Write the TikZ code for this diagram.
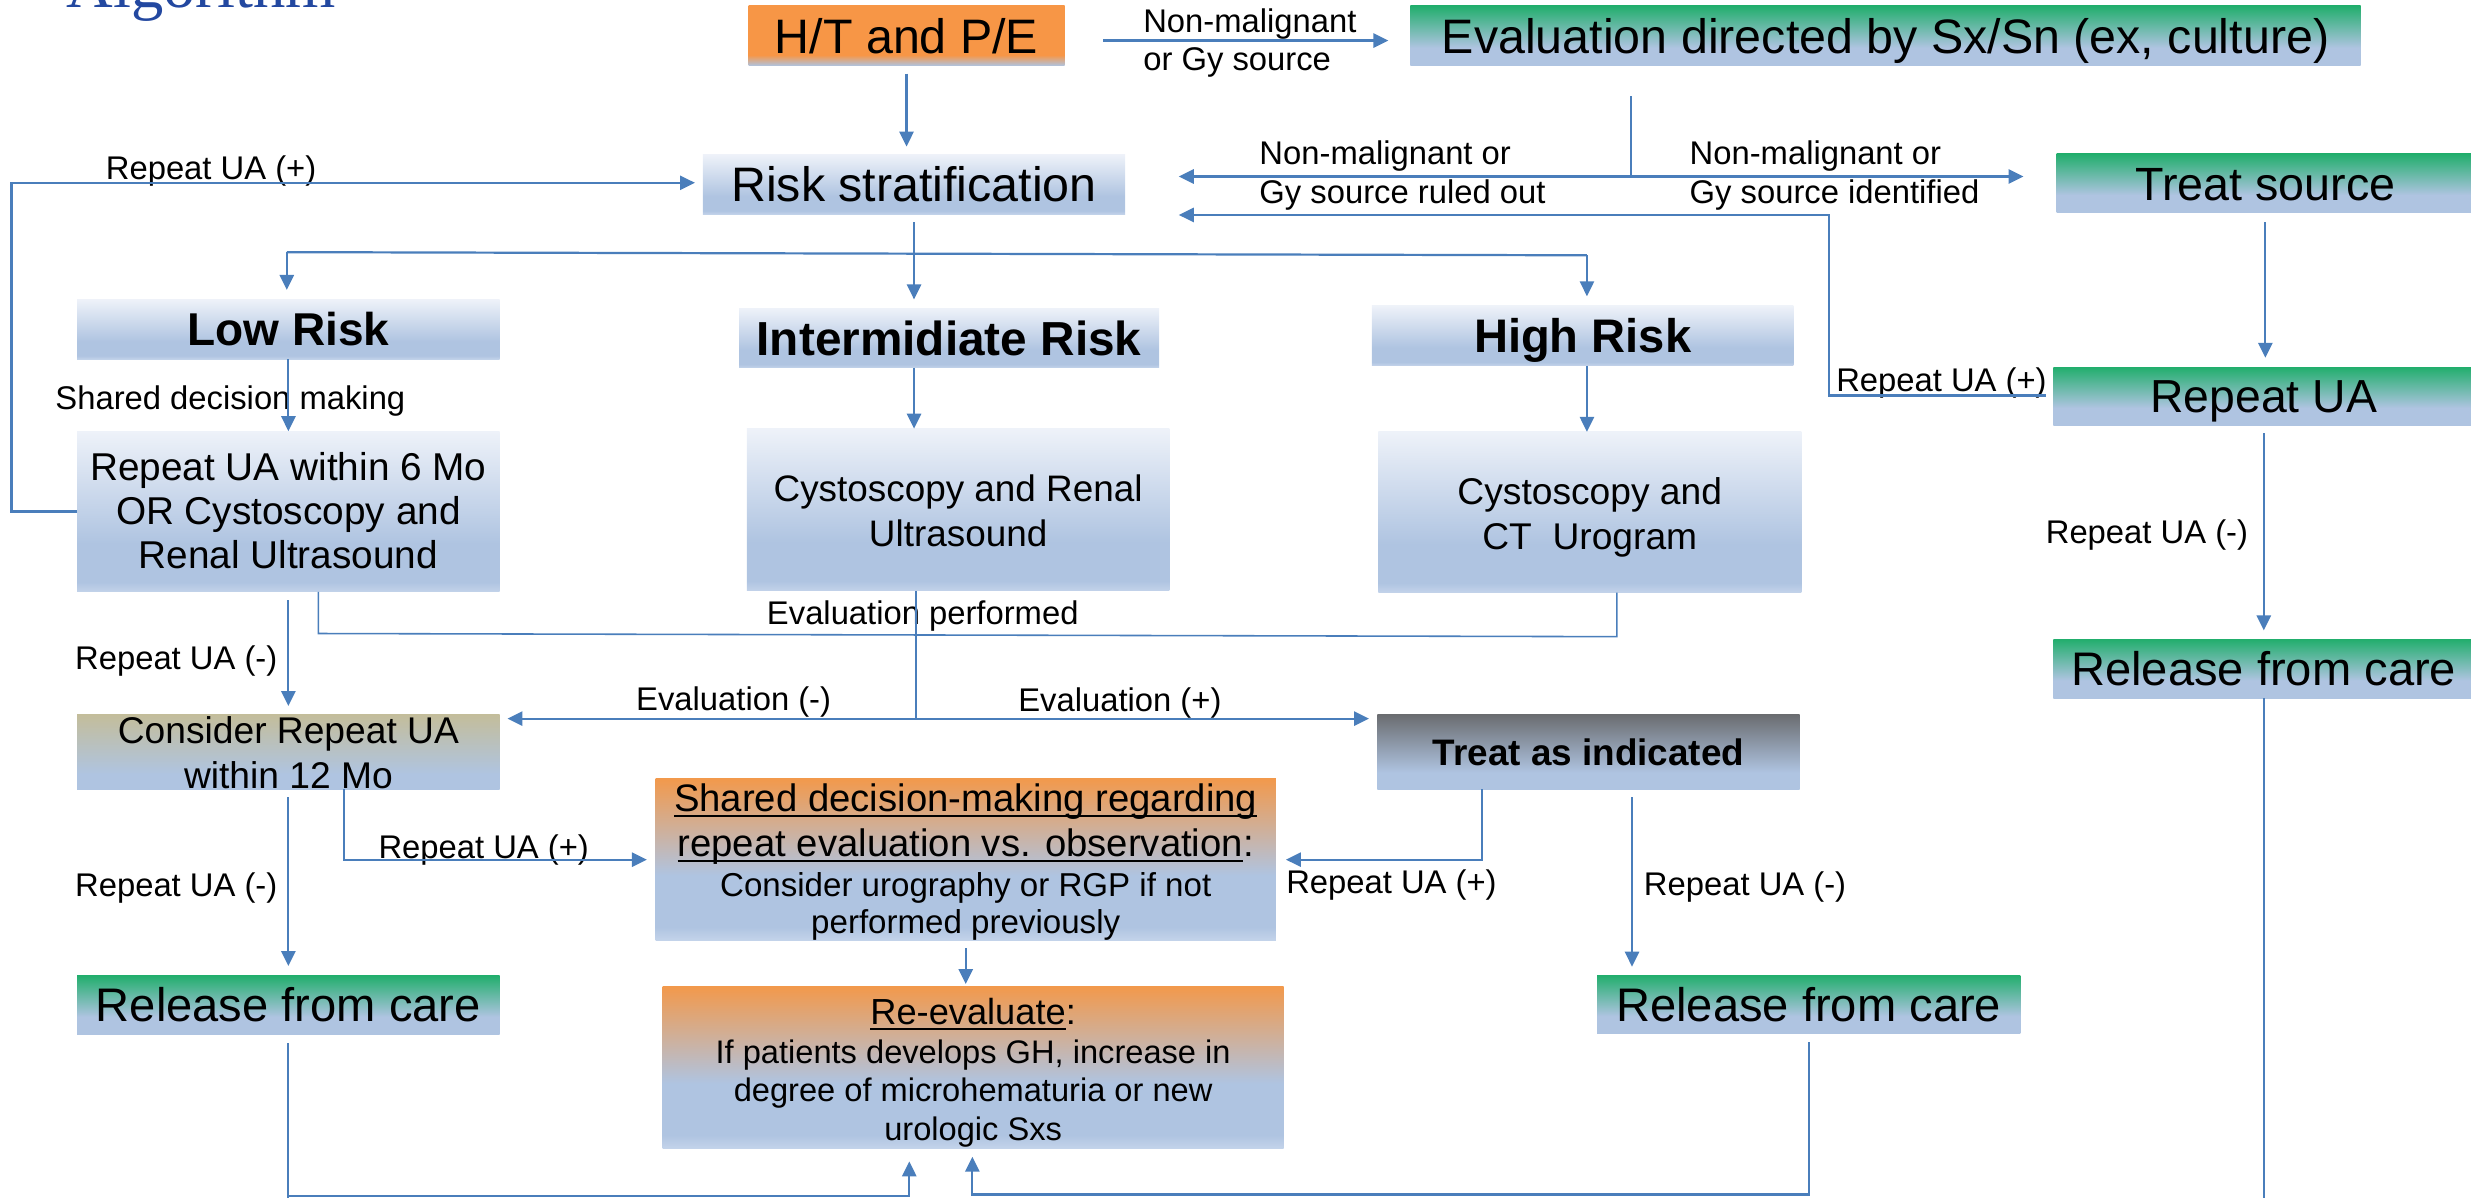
\documentclass[tikz,border=0pt]{standalone}
\usepackage{fontspec}
\setmainfont{Liberation Sans}
\newfontfamily\titlefont{Liberation Serif}
\usetikzlibrary{arrows.meta}
\definecolor{lineblue}{HTML}{4A7EBB}
\definecolor{titleblue}{HTML}{2348A0}
\definecolor{bluetop}{HTML}{EEF2F9}
\definecolor{bluemid}{HTML}{AFC4E1}
\definecolor{bluebot}{HTML}{C3D3EA}
\definecolor{greentop}{HTML}{22AE6D}
\definecolor{orangeA}{HTML}{F79646}
\definecolor{orangeB}{HTML}{F2994C}
\definecolor{khaki}{HTML}{C3BD9B}
\definecolor{darkg}{HTML}{6B6D71}
\pgfdeclareverticalshading{blueshade}{100bp}{color(0bp)=(bluebot); color(25bp)=(bluebot); color(28bp)=(bluemid); color(40bp)=(bluemid); color(75bp)=(bluetop); color(100bp)=(bluetop)}
\pgfdeclareverticalshading{greenshade}{100bp}{color(0bp)=(bluemid); color(25bp)=(bluemid); color(40bp)=(bluemid); color(75bp)=(greentop); color(100bp)=(greentop)}
\pgfdeclareverticalshading{htshade}{100bp}{color(0bp)=(bluemid); color(25bp)=(bluemid); color(34bp)=(orangeA); color(100bp)=(orangeA)}
\pgfdeclareverticalshading{orshade}{100bp}{color(0bp)=(bluebot); color(25bp)=(bluebot); color(29bp)=(bluemid); color(45bp)=(bluemid); color(75bp)=(orangeB); color(100bp)=(orangeB)}
\pgfdeclareverticalshading{khshade}{100bp}{color(0bp)=(bluemid); color(25bp)=(bluemid); color(35bp)=(bluemid); color(75bp)=(khaki); color(100bp)=(khaki)}
\pgfdeclareverticalshading{grshade}{100bp}{color(0bp)=(bluemid); color(25bp)=(bluemid); color(36bp)=(bluemid); color(75bp)=(darkg); color(100bp)=(darkg)}
\newcommand\fsz[1]{\fontsize{#1}{#1}\selectfont}
\newsavebox\ulbox
\newcommand\myul[1]{\sbox\ulbox{#1}\rlap{\rule[-3.3pt]{\wd\ulbox}{1.1pt}}\usebox\ulbox}
\begin{document}
\begin{tikzpicture}[x=1pt,y=-1pt,
  bx/.style={inner sep=0pt, outer sep=0pt, text=black, shade},
  conn/.style={draw=lineblue, line width=1.4pt},
  thinconn/.style={draw=lineblue, line width=1pt},
  arr/.style={conn, -{Triangle[length=9.5pt,width=9pt]}},
  lab/.style={inner sep=0pt, anchor=base west, font=\fsz{20.8}},
  txt/.style={inner sep=0pt, anchor=base},
]
\useasboundingbox (0,0) rectangle (1568,760);

\begin{scope}
\clip (0,0) rectangle (1568,760);
\node[inner sep=0pt, anchor=base west, font=\titlefont\fsz{41}, text=titleblue] (title) at (42,4.5) {Algorithm};
\end{scope}

% boxes
\node[bx, shading=htshade, minimum width=200.5pt, minimum height=37.9pt, font=\fsz{30.7}, text height=22pt, text depth=0pt] (ht) at (575.25,22.75) {H/T and P/E};
\node[bx, shading=greenshade, minimum width=603pt, minimum height=37.9pt, font=\fsz{30.7}, text height=22pt, text depth=0pt] (eval) at (1196.5,22.75) {Evaluation directed by Sx/Sn (ex, culture)};
\node[bx, shading=blueshade, minimum width=268pt, minimum height=38pt, font=\fsz{30.7}, text height=22pt, text depth=0pt] (risk) at (580,117) {Risk stratification};
\node[bx, shading=greenshade, minimum width=265pt, minimum height=37.3pt, font=\fsz{29.6}, text height=21.2pt, text depth=0pt] (treatsrc) at (1437.5,116.35) {Treat source};

\node[bx, shading=blueshade, minimum width=268pt, minimum height=38pt, font=\bfseries\fsz{29.2}, text height=20.9pt, text depth=0pt] (low) at (183,209) {Low Risk};
\node[bx, shading=blueshade, minimum width=266.5pt, minimum height=37.8pt, font=\bfseries\fsz{30.3}, text height=21.7pt, text depth=0pt] (inter) at (602.25,214.5) {Intermidiate Risk};
\node[bx, shading=blueshade, minimum width=267.4pt, minimum height=38pt, font=\bfseries\fsz{29.9}, text height=21.4pt, text depth=0pt] (high) at (1004.3,213) {High Risk};

\node[bx, shading=blueshade, minimum width=268pt, minimum height=102pt] (rua6) at (183,324.6) {};
\node[txt, font=\fsz{24.6}] (rua6a) at (183,304.6) {Repeat UA within 6 Mo};
\node[txt, font=\fsz{24.6}] (rua6b) at (183,333) {OR Cystoscopy and};
\node[txt, font=\fsz{24.6}] (rua6c) at (183,361) {Renal Ultrasound};

\node[bx, shading=blueshade, minimum width=268pt, minimum height=103pt] (cysren) at (608,323.5) {};
\node[txt, font=\fsz{23.4}] (cysrena) at (608,318.3) {Cystoscopy and Renal};
\node[txt, font=\fsz{23.4}] (cysrenb) at (608,346.9) {Ultrasound};

\node[bx, shading=blueshade, minimum width=268.4pt, minimum height=102pt] (ct) at (1008.8,325) {};
\node[txt, font=\fsz{23.6}] (cta) at (1008.8,320.4) {Cystoscopy and};
\node[txt, font=\fsz{23.6}] (ctb) at (1008.8,348.5) {CT~~Urogram};

\node[bx, shading=greenshade, minimum width=267pt, minimum height=37pt, font=\fsz{29.4}, text height=21.05pt, text depth=0pt] (ruaR) at (1436.5,251.5) {Repeat UA};
\node[bx, shading=greenshade, minimum width=267pt, minimum height=37.4pt, font=\fsz{29.9}, text height=21.4pt, text depth=0pt] (relR) at (1436.5,424.3) {Release from care};

\node[bx, shading=khshade, minimum width=268pt, minimum height=47.2pt] (consider) at (183,477.1) {};
\node[txt, font=\fsz{23.6}] (considera) at (183,471.9) {Consider Repeat UA};
\node[txt, font=\fsz{23.6}] (considerb) at (183,500.3) {within 12 Mo};

\node[bx, shading=grshade, minimum width=268pt, minimum height=47pt, font=\bfseries\fsz{23.4}, text height=16.75pt, text depth=0pt] (treatind) at (1008,477.2) {Treat as indicated};

\node[bx, shading=orshade, minimum width=393.6pt, minimum height=102.5pt] (shared) at (612.8,545.25) {};
\node[txt, font=\fsz{24.3}] (shareda) at (612.8,515) {\myul{Shared decision-making regarding}};
\node[txt, font=\fsz{24.3}] (sharedb) at (612.8,543.6) {\myul{repeat evaluation vs. observation}:};
\node[txt, font=\fsz{21}] (sharedc) at (612.8,569) {Consider urography or RGP if not};
\node[txt, font=\fsz{21}] (sharedd) at (612.8,592.6) {performed previously};

\node[bx, shading=orshade, minimum width=394.1pt, minimum height=102.5pt] (reeval) at (617.55,677.25) {};
\node[txt, font=\fsz{23}] (reevala) at (617.5,650.4) {\myul{Re-evaluate}:};
\node[txt, font=\fsz{20.7}] (reevalb) at (617.5,674.7) {If patients develops GH, increase in};
\node[txt, font=\fsz{20.7}] (reevalc) at (617.5,699) {degree of microhematuria or new};
\node[txt, font=\fsz{20.7}] (reevald) at (617.5,723.4) {urologic Sxs};

\node[bx, shading=greenshade, minimum width=268pt, minimum height=37.5pt, font=\fsz{29.9}, text height=21.4pt, text depth=0pt] (relL) at (183,637.75) {Release from care};
\node[bx, shading=greenshade, minimum width=268.5pt, minimum height=37.2pt, font=\fsz{29.9}, text height=21.4pt, text depth=0pt] (relM) at (1147.75,637.4) {Release from care};

% labels
\node[lab] (l1) at (67,114) {Repeat UA (+)};
\node[lab] (l2a) at (725.3,20.7) {Non-malignant};
\node[lab] (l2b) at (725.3,44.8) {or Gy source};
\node[lab] (l3a) at (799,104.7) {Non-malignant or};
\node[lab] (l3b) at (799,129) {Gy source ruled out};
\node[lab] (l4a) at (1072,104.7) {Non-malignant or};
\node[lab] (l4b) at (1072,129) {Gy source identified};
\node[lab] (l5) at (35,260) {Shared decision making};
\node[lab] (l6) at (1165,248.5) {Repeat UA (+)};
\node[lab] (l7) at (1298,344.7) {Repeat UA (-)};
\node[lab] (l8) at (486.5,396) {Evaluation performed};
\node[lab] (l9) at (47.5,424.6) {Repeat UA (-)};
\node[lab] (l10) at (403.5,451) {Evaluation (-)};
\node[lab] (l11) at (646,451.6) {Evaluation (+)};
\node[lab] (l12) at (240,544.6) {Repeat UA (+)};
\node[lab] (l13) at (47.5,569) {Repeat UA (-)};
\node[lab] (l14) at (816,566.8) {Repeat UA (+)};
\node[lab] (l15) at (1043,568) {Repeat UA (-)};

% junction coordinates
\coordinate (j1) at (1035,112);
\coordinate (k1) at (1160.6,251);
\coordinate (k2) at (1160.6,136.4);
\coordinate (dL) at (182,160);
\coordinate (dR) at (1007,162);
\coordinate (lp1) at (7.3,324.6);
\coordinate (lp2) at (7.3,116);
\coordinate (ep1) at (202,402);
\coordinate (ep2) at (1026,404);
\coordinate (sp) at (581,456);
\coordinate (cs) at (218.5,545.5);
\coordinate (ts) at (940.5,545.5);
\coordinate (tm) at (1035.6,506);
\coordinate (bl) at (183,759);
\coordinate (bl2) at (577,759);
\coordinate (bm) at (1147.75,758);
\coordinate (bm2) at (617,758);
\coordinate (bot) at (0,770);

% connectors
\draw[arr, shorten <=5pt, shorten >=5pt] (ht.south) -- (ht.south |- risk.north);
\draw[arr, shorten <=24.5pt, shorten >=14pt] ([yshift=-3pt]ht.east) -- ([yshift=-3pt]eval.west);
\draw[thinconn, shorten <=19.3pt] (eval.south -| j1) -- (j1);
\draw[arr, shorten >=34pt] (j1) -- (risk.east |- j1);
\draw[arr, shorten >=21pt] (j1) -- (treatsrc.west |- j1);
\draw[arr, shorten <=5pt, shorten >=34pt] (ruaR.west |- k1) -- (k1) -- (k2) -- (risk.east |- k2);
\draw[arr, shorten <=6pt, shorten >=6pt] (treatsrc.south) -- (treatsrc.south |- ruaR.north);
\draw[arr, shorten <=5pt, shorten >=5.6pt] (ruaR.south) -- (ruaR.south |- relR.north);
\draw[conn] (relR.south) -- (relR.south |- bot);
\draw[arr, shorten <=5pt, shorten >=5.6pt] (risk.south) -- (risk.south |- inter.north);
\draw[conn] (dL) -- (dR);
\draw[arr, shorten >=6pt] (dL) -- (low.north -| dL);
\draw[arr, shorten >=6pt] (dR) -- (high.north -| dR);
\draw[arr] (low.south) -- (rua6.north);
\draw[arr] (risk.south |- inter.south) -- (risk.south |- cysren.north);
\draw[arr] (dR |- high.south) -- (dR |- ct.north);
\draw[arr, shorten >=5pt] (rua6.west) -- (lp1) -- (lp2) -- (risk.west |- lp2);
\draw[arr, shorten <=5.4pt, shorten >=5.5pt] (rua6.south) -- (consider.north);
\draw[thinconn] (rua6.south -| ep1) -- (ep1) -- (ep2) -- (ct.south -| ep2);
\draw[conn] (cysren.south -| sp) -- (sp);
\draw[arr, shorten >=5pt] (sp) -- (consider.east |- sp);
\draw[arr, shorten >=5.3pt] (sp) -- (treatind.west |- sp);
\draw[arr, shorten <=5.3pt, shorten >=6pt] (consider.south) -- (relL.north);
\draw[arr, shorten >=5.5pt] (consider.south -| cs) -- (cs) -- (shared.west |- cs);
\draw[arr, shorten >=6.4pt] (treatind.south -| ts) -- (ts) -- (shared.east |- ts);
\draw[arr, shorten <=5.3pt, shorten >=5.4pt] (treatind.south -| tm) -- (relM.north -| tm);
\draw[arr, shorten <=5.3pt, shorten >=1.6pt] (shared.south) -- (shared.south |- reeval.north);
\draw[conn, shorten <=5.5pt] (relL.south) -- (relL.south |- bot);
\draw[arr, shorten >=8.5pt] (bl) -- (bl2) -- (reeval.south -| bl2);
\draw[arr, shorten <=5.5pt, shorten >=5.5pt] (relM.south) -- (bm) -- (bm2) -- (reeval.south -| bm2);
\end{tikzpicture}
\end{document}
